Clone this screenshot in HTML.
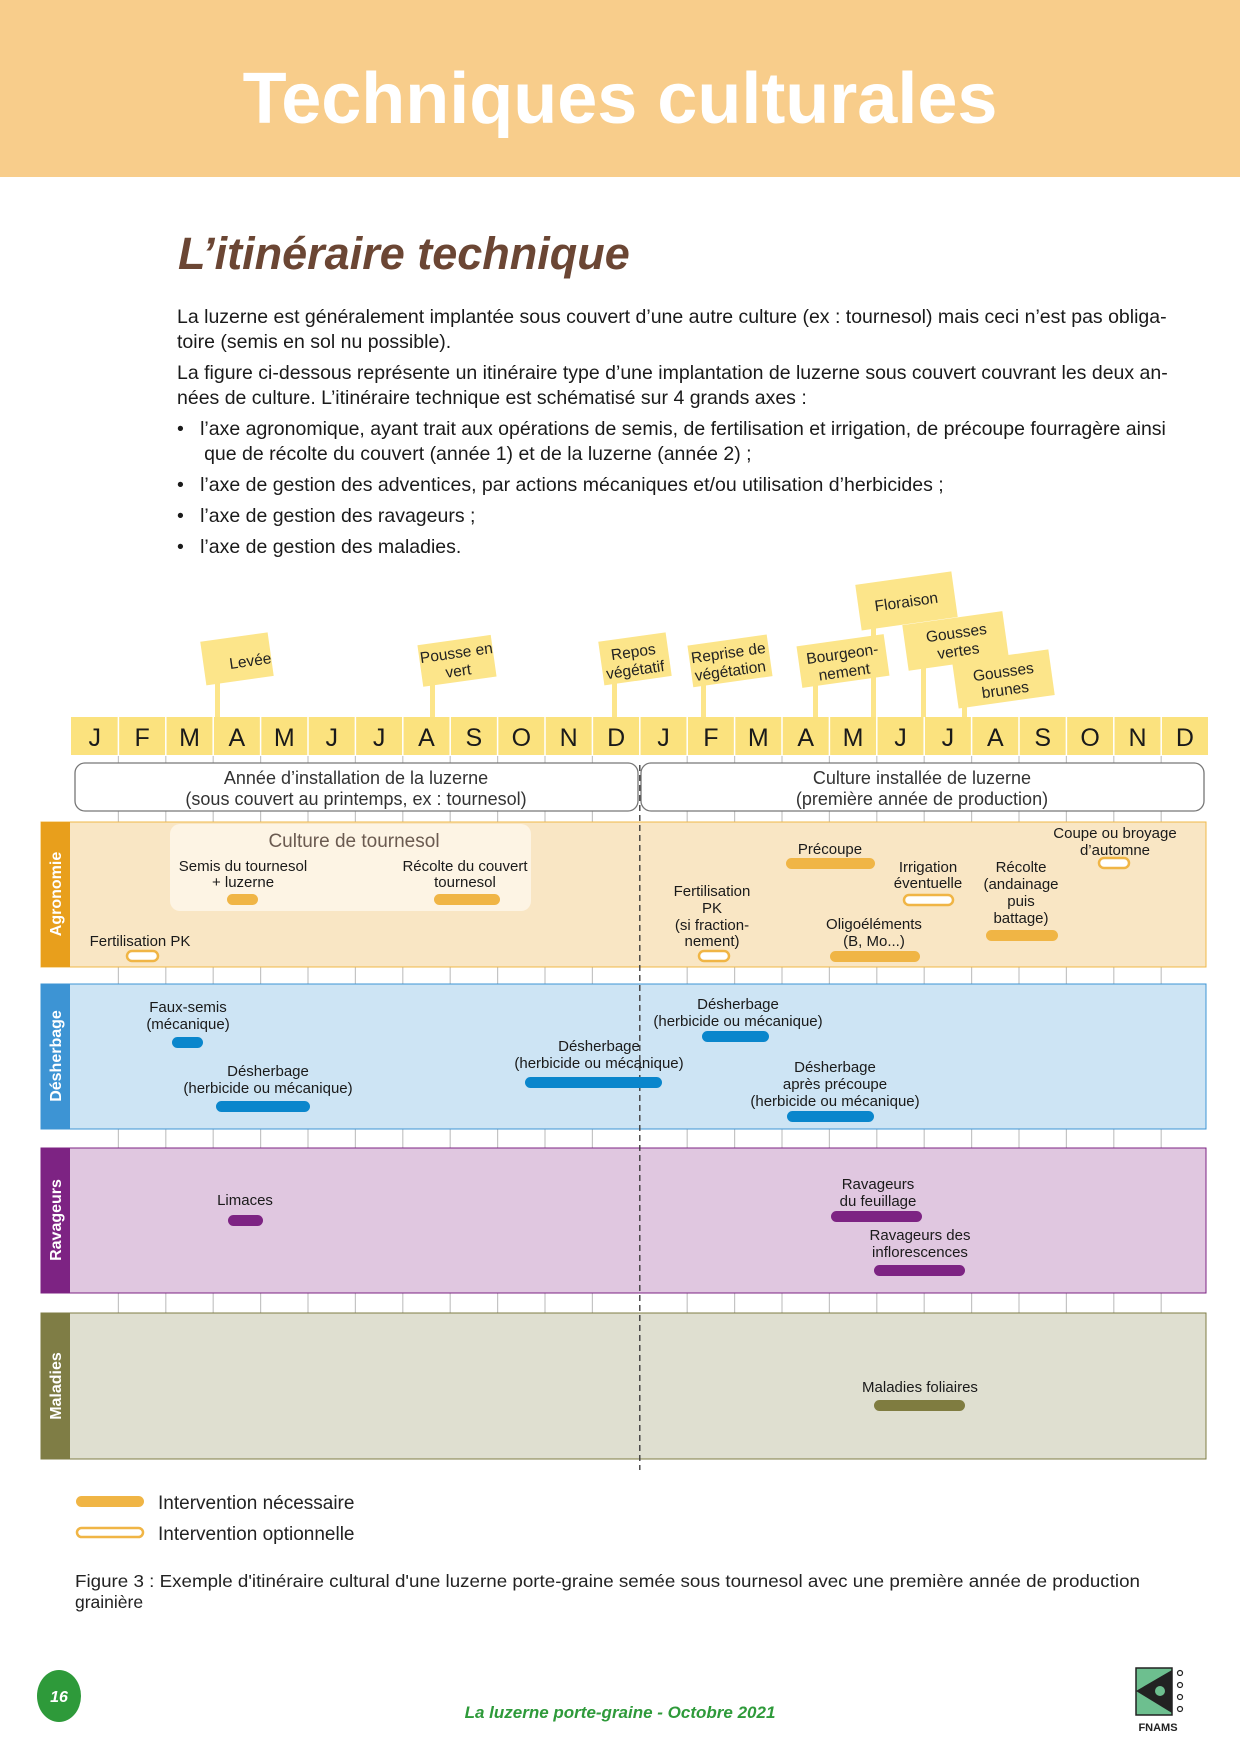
<!DOCTYPE html>
<html><head><meta charset="utf-8"><style>
body{margin:0;width:1240px;height:1754px;position:relative;background:#fff;font-family:"Liberation Sans Narrow","Liberation Sans",sans-serif;color:#1a1a1a;overflow:hidden}
.hdr{position:absolute;left:0;top:0;width:1240px;height:177px;background:#f8cd8b}
.hdr h1{margin:0;position:absolute;left:0;width:1240px;top:58px;text-align:center;font:bold 72px "Liberation Sans",sans-serif;color:#fff;letter-spacing:0px}
h2{position:absolute;left:178px;top:228px;margin:0;font:italic bold 45px "Liberation Sans",sans-serif;color:#6b4634}
.p{position:absolute;left:177px;font-size:19.5px;line-height:25px;width:1060px;font-family:"Liberation Sans",sans-serif}
svg text{font-family:"Liberation Sans Narrow","Liberation Sans",sans-serif}
</style></head><body>
<div class="hdr"><h1>Techniques culturales</h1></div>
<h2>L’itinéraire technique</h2>
<div class="p" style="top:305px">La luzerne est généralement implantée sous couvert d’une autre culture (ex : tournesol) mais ceci n’est pas obliga-<br>toire (semis en sol nu possible).</div>
<div class="p" style="top:361px">La figure ci-dessous représente un itinéraire type d’une implantation de luzerne sous couvert couvrant les deux an-<br>nées de culture. L’itinéraire technique est schématisé sur 4 grands axes :</div>
<div class="p" style="top:417px">•&nbsp;&nbsp;&nbsp;l’axe agronomique, ayant trait aux opérations de semis, de fertilisation et irrigation, de précoupe fourragère ainsi<br>&nbsp;&nbsp;&nbsp;&nbsp;&nbsp;que de récolte du couvert (année 1) et de la luzerne (année 2) ;</div>
<div class="p" style="top:473px">•&nbsp;&nbsp;&nbsp;l’axe de gestion des adventices, par actions mécaniques et/ou utilisation d’herbicides ;</div>
<div class="p" style="top:504px">•&nbsp;&nbsp;&nbsp;l’axe de gestion des ravageurs ;</div>
<div class="p" style="top:535px">•&nbsp;&nbsp;&nbsp;l’axe de gestion des maladies.</div>

<svg width="1240" height="1754" style="position:absolute;left:0;top:0" xmlns="http://www.w3.org/2000/svg">
<g stroke="#c4c4c4" stroke-width="1.2">
<line x1="118.4" y1="756" x2="118.4" y2="1313"/><line x1="165.8" y1="756" x2="165.8" y2="1313"/><line x1="213.2" y1="756" x2="213.2" y2="1313"/><line x1="260.6" y1="756" x2="260.6" y2="1313"/><line x1="308" y1="756" x2="308" y2="1313"/><line x1="355.4" y1="756" x2="355.4" y2="1313"/><line x1="402.8" y1="756" x2="402.8" y2="1313"/><line x1="450.2" y1="756" x2="450.2" y2="1313"/><line x1="497.6" y1="756" x2="497.6" y2="1313"/><line x1="545" y1="756" x2="545" y2="1313"/><line x1="592.4" y1="756" x2="592.4" y2="1313"/><line x1="687.2" y1="756" x2="687.2" y2="1313"/><line x1="734.6" y1="756" x2="734.6" y2="1313"/><line x1="782" y1="756" x2="782" y2="1313"/><line x1="829.4" y1="756" x2="829.4" y2="1313"/><line x1="876.8" y1="756" x2="876.8" y2="1313"/><line x1="924.2" y1="756" x2="924.2" y2="1313"/><line x1="971.6" y1="756" x2="971.6" y2="1313"/><line x1="1019" y1="756" x2="1019" y2="1313"/><line x1="1066.4" y1="756" x2="1066.4" y2="1313"/><line x1="1113.8" y1="756" x2="1113.8" y2="1313"/><line x1="1161.2" y1="756" x2="1161.2" y2="1313"/>
</g>
<g fill="#fce58a">
<rect x="215" y="680" width="5" height="37"/><rect x="430" y="684" width="5" height="33"/><rect x="612" y="680" width="5" height="37"/><rect x="701" y="684" width="5" height="33"/><rect x="813" y="683" width="5" height="34"/><rect x="871" y="624" width="5" height="93"/><rect x="921" y="663" width="5" height="54"/><rect x="962" y="702" width="5" height="15"/>
<g transform="rotate(-8 236 659)"><rect x="203" y="637" width="68" height="44"/></g>
<g transform="rotate(-8 456 661)"><rect x="420" y="640" width="74" height="42"/></g>
<g transform="rotate(-8 634 659)"><rect x="601" y="637" width="68" height="44"/></g>
<g transform="rotate(-8 729 661)"><rect x="690" y="640" width="80" height="42"/></g>
<g transform="rotate(-8 843 661)"><rect x="799" y="640" width="88" height="42"/></g>
<g transform="rotate(-8 906 601)"><rect x="858" y="578" width="97" height="46"/></g>
<g transform="rotate(-8 955 641)"><rect x="905" y="618" width="101" height="46"/></g>
<g transform="rotate(-8 1003 679)"><rect x="955" y="656" width="97" height="46"/></g>
</g>
<g font-size="15.5" text-anchor="middle" fill="#222">
<text x="251" y="666" transform="rotate(-8 251 666)">Levée</text>
<text x="457" y="658" transform="rotate(-8 457 658)">Pousse en</text><text x="459" y="676" transform="rotate(-8 459 676)">vert</text>
<text x="634" y="657" transform="rotate(-8 634 657)">Repos</text><text x="636" y="675" transform="rotate(-8 636 675)">végétatif</text>
<text x="729" y="658" transform="rotate(-8 729 658)">Reprise de</text><text x="731" y="676" transform="rotate(-8 731 676)">végétation</text>
<text x="843" y="659" transform="rotate(-8 843 659)">Bourgeon-</text><text x="845" y="677" transform="rotate(-8 845 677)">nement</text>
<text x="907" y="607" transform="rotate(-8 907 607)">Floraison</text>
<text x="957" y="638" transform="rotate(-8 957 638)">Gousses</text><text x="959" y="656" transform="rotate(-8 959 656)">vertes</text>
<text x="1004" y="677" transform="rotate(-8 1004 677)">Gousses</text><text x="1006" y="695" transform="rotate(-8 1006 695)">brunes</text>
</g>
<rect x="71" y="717" width="1137" height="38" fill="#fbe27e"/>
<g stroke="#fff" stroke-width="1.5">
<line x1="118.4" y1="717" x2="118.4" y2="755"/><line x1="165.8" y1="717" x2="165.8" y2="755"/><line x1="213.2" y1="717" x2="213.2" y2="755"/><line x1="260.6" y1="717" x2="260.6" y2="755"/><line x1="308" y1="717" x2="308" y2="755"/><line x1="355.4" y1="717" x2="355.4" y2="755"/><line x1="402.8" y1="717" x2="402.8" y2="755"/><line x1="450.2" y1="717" x2="450.2" y2="755"/><line x1="497.6" y1="717" x2="497.6" y2="755"/><line x1="545" y1="717" x2="545" y2="755"/><line x1="592.4" y1="717" x2="592.4" y2="755"/><line x1="639.8" y1="717" x2="639.8" y2="755"/><line x1="687.2" y1="717" x2="687.2" y2="755"/><line x1="734.6" y1="717" x2="734.6" y2="755"/><line x1="782" y1="717" x2="782" y2="755"/><line x1="829.4" y1="717" x2="829.4" y2="755"/><line x1="876.8" y1="717" x2="876.8" y2="755"/><line x1="924.2" y1="717" x2="924.2" y2="755"/><line x1="971.6" y1="717" x2="971.6" y2="755"/><line x1="1019" y1="717" x2="1019" y2="755"/><line x1="1066.4" y1="717" x2="1066.4" y2="755"/><line x1="1113.8" y1="717" x2="1113.8" y2="755"/><line x1="1161.2" y1="717" x2="1161.2" y2="755"/>
</g>
<g font-size="25" text-anchor="middle" fill="#1a1a1a">
<text x="94.7" y="746">J</text><text x="142.1" y="746">F</text><text x="189.5" y="746">M</text><text x="236.9" y="746">A</text><text x="284.3" y="746">M</text><text x="331.7" y="746">J</text><text x="379.1" y="746">J</text><text x="426.5" y="746">A</text><text x="473.9" y="746">S</text><text x="521.3" y="746">O</text><text x="568.7" y="746">N</text><text x="616.1" y="746">D</text><text x="663.5" y="746">J</text><text x="710.9" y="746">F</text><text x="758.3" y="746">M</text><text x="805.7" y="746">A</text><text x="853.1" y="746">M</text><text x="900.5" y="746">J</text><text x="947.9" y="746">J</text><text x="995.3" y="746">A</text><text x="1042.7" y="746">S</text><text x="1090.1" y="746">O</text><text x="1137.5" y="746">N</text><text x="1184.9" y="746">D</text>
</g>
<rect x="75" y="763" width="563" height="48" rx="10" fill="#fff" stroke="#777" stroke-width="1.3"/>
<rect x="641" y="763" width="563" height="48" rx="10" fill="#fff" stroke="#777" stroke-width="1.3"/>
<g font-size="18" text-anchor="middle" fill="#333">
<text x="356" y="784">Année d’installation de la luzerne</text><text x="356" y="805">(sous couvert au printemps, ex : tournesol)</text>
<text x="922" y="784">Culture installée de luzerne</text><text x="922" y="805">(première année de production)</text>
</g>
<rect x="41" y="822" width="1165" height="145" fill="#f9e6c4" stroke="#f0b848" stroke-width="1"/><rect x="41" y="822" width="29" height="145" fill="#e89f1c"/>
<rect x="41" y="984" width="1165" height="145" fill="#cde4f4" stroke="#3d94d4" stroke-width="1"/><rect x="41" y="984" width="29" height="145" fill="#3d94d4"/>
<rect x="41" y="1148" width="1165" height="145" fill="#e0c7e0" stroke="#7d2383" stroke-width="1"/><rect x="41" y="1148" width="29" height="145" fill="#7d2383"/>
<rect x="41" y="1313" width="1165" height="146" fill="#dfdfd0" stroke="#7f7d45" stroke-width="1"/><rect x="41" y="1313" width="29" height="146" fill="#7f7d45"/>
<g font-family="Liberation Sans" font-weight="bold" font-size="16" fill="#fff" text-anchor="middle">
<text transform="translate(61 894) rotate(-90)">Agronomie</text>
<text transform="translate(61 1056) rotate(-90)">Désherbage</text>
<text transform="translate(61 1220) rotate(-90)">Ravageurs</text>
<text transform="translate(61 1386) rotate(-90)">Maladies</text>
</g>
<line x1="639.8" y1="765" x2="639.8" y2="1470" stroke="#333" stroke-width="1.3" stroke-dasharray="6 4"/>
<rect x="170" y="824" width="361" height="87" rx="10" fill="#fdf4e4"/>
<g font-size="15" text-anchor="middle" fill="#1a1a1a">
<text x="354" y="847" font-size="19" fill="#6a5a50">Culture de tournesol</text>
<text x="243" y="871">Semis du tournesol</text><text x="243" y="887">+ luzerne</text>
<text x="465" y="871">Récolte du couvert</text><text x="465" y="887">tournesol</text>
<text x="140" y="946">Fertilisation PK</text>
<text x="712" y="896">Fertilisation</text><text x="712" y="913">PK</text><text x="712" y="930">(si fraction-</text><text x="712" y="946">nement)</text>
<text x="830" y="854">Précoupe</text>
<text x="928" y="872">Irrigation</text><text x="928" y="888">éventuelle</text>
<text x="874" y="929">Oligoéléments</text><text x="874" y="946">(B, Mo...)</text>
<text x="1021" y="872">Récolte</text><text x="1021" y="889">(andainage</text><text x="1021" y="906">puis</text><text x="1021" y="923">battage)</text>
<text x="1115" y="838">Coupe ou broyage</text><text x="1115" y="855">d’automne</text>
<text x="188" y="1012">Faux-semis</text><text x="188" y="1029">(mécanique)</text>
<text x="268" y="1076">Désherbage</text><text x="268" y="1093">(herbicide ou mécanique)</text>
<text x="599" y="1051">Désherbage</text><text x="599" y="1068">(herbicide ou mécanique)</text>
<text x="738" y="1009">Désherbage</text><text x="738" y="1026">(herbicide ou mécanique)</text>
<text x="835" y="1072">Désherbage</text><text x="835" y="1089">après précoupe</text><text x="835" y="1106">(herbicide ou mécanique)</text>
<text x="245" y="1205">Limaces</text>
<text x="878" y="1189">Ravageurs</text><text x="878" y="1206">du feuillage</text>
<text x="920" y="1240">Ravageurs des</text><text x="920" y="1257">inflorescences</text>
<text x="920" y="1392">Maladies foliaires</text>
</g>
<g fill="#f0b545">
<rect x="227" y="894" width="31" height="11" rx="5.5"/><rect x="434" y="894" width="66" height="11" rx="5.5"/>
<rect x="786" y="858" width="89" height="11" rx="5.5"/><rect x="830" y="951" width="90" height="11" rx="5.5"/><rect x="986" y="930" width="72" height="11" rx="5.5"/>
</g>
<g fill="#fff" stroke="#f0b545" stroke-width="2.5">
<rect x="127" y="951" width="31" height="10" rx="5"/><rect x="699" y="951" width="30" height="10" rx="5"/><rect x="904" y="895" width="49" height="10" rx="5"/><rect x="1099" y="858" width="30" height="10" rx="5"/>
</g>
<g fill="#0a86cc">
<rect x="172" y="1037" width="31" height="11" rx="5.5"/><rect x="216" y="1101" width="94" height="11" rx="5.5"/><rect x="525" y="1077" width="137" height="11" rx="5.5"/><rect x="702" y="1031" width="67" height="11" rx="5.5"/><rect x="787" y="1111" width="87" height="11" rx="5.5"/>
</g>
<g fill="#7d2383">
<rect x="228" y="1215" width="35" height="11" rx="5.5"/><rect x="831" y="1211" width="91" height="11" rx="5.5"/><rect x="874" y="1265" width="91" height="11" rx="5.5"/>
</g>
<rect x="874" y="1400" width="91" height="11" rx="5.5" fill="#7f7c40"/>
<rect x="76" y="1496" width="68" height="11" rx="5.5" fill="#f0b545"/>
<rect x="77" y="1528" width="66" height="9" rx="4.5" fill="#fff" stroke="#f0b545" stroke-width="2.5"/>
<g font-size="19" fill="#222"><text x="158" y="1509">Intervention nécessaire</text><text x="158" y="1540">Intervention optionnelle</text></g>
<g font-size="17.5" fill="#222" font-family="Liberation Sans Narrow, Liberation Sans"><text x="75" y="1587" textLength="1065" lengthAdjust="spacingAndGlyphs">Figure 3 : Exemple d'itinéraire cultural d'une luzerne porte-graine semée sous tournesol avec une première année de production</text><text x="75" y="1608">grainière</text></g>
<ellipse cx="59" cy="1696" rx="22" ry="26" fill="#2e9a3a"/>
<text x="59" y="1702" font-size="16" font-style="italic" font-weight="bold" fill="#fff" text-anchor="middle">16</text>
<text x="620" y="1718" font-size="17" font-style="italic" font-weight="bold" fill="#2e9a3a" text-anchor="middle">La luzerne porte-graine - Octobre 2021</text>
<rect x="1136" y="1668" width="36" height="47" fill="#6dbf8f" stroke="#222" stroke-width="1.5"/>
<polygon points="1136,1691 1172,1670 1172,1713" fill="#222"/>
<circle cx="1160" cy="1691" r="5" fill="#6dbf8f"/>
<g fill="none" stroke="#222" stroke-width="1.2"><circle cx="1180" cy="1673" r="2.5"/><circle cx="1180" cy="1685" r="2.5"/><circle cx="1180" cy="1697" r="2.5"/><circle cx="1180" cy="1709" r="2.5"/></g>
<text x="1158" y="1731" font-family="Liberation Sans" font-weight="bold" font-size="11" fill="#222" text-anchor="middle">FNAMS</text>
</svg>
</body></html>
